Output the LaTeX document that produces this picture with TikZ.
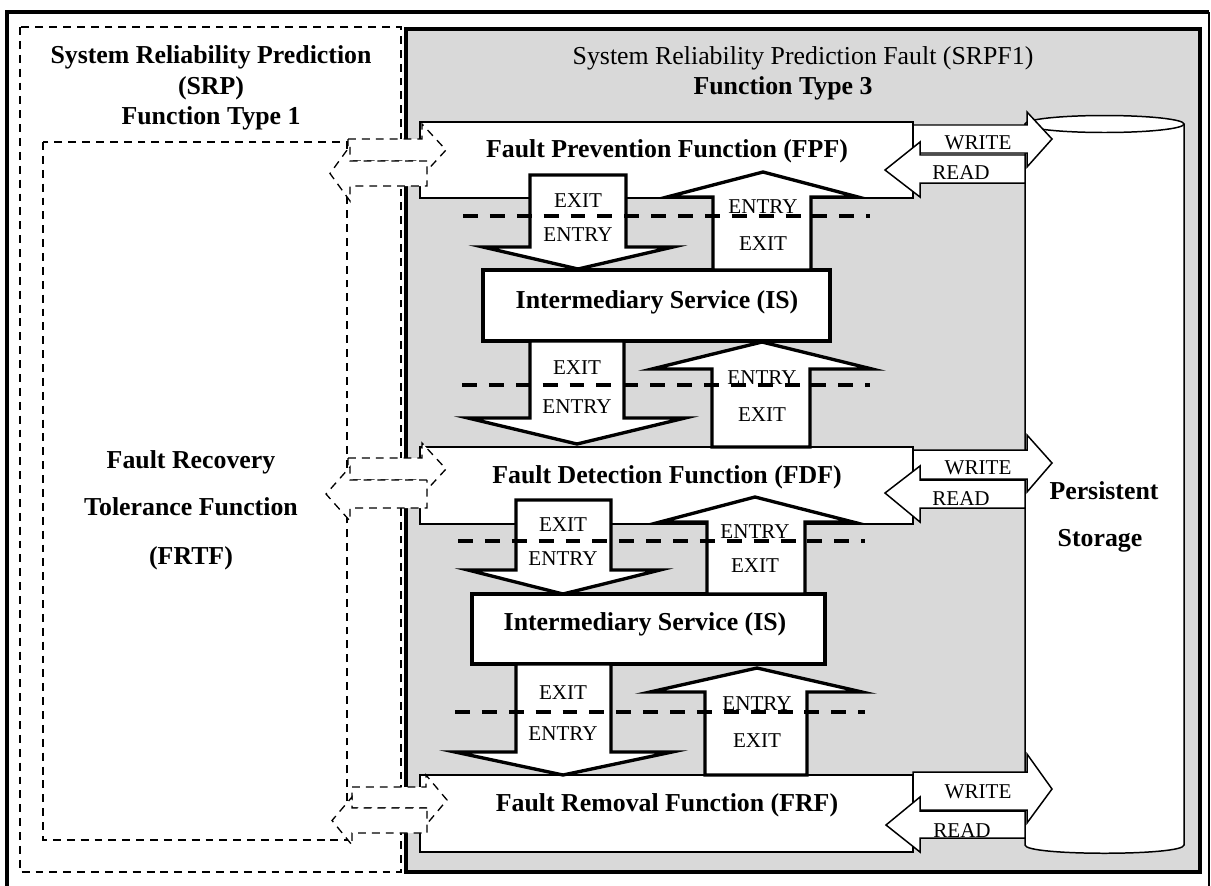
\documentclass[tikz,border=0pt]{standalone}
\usepackage{fontspec}
\setmainfont{Liberation Serif}
\definecolor{panelgray}{RGB}{217,217,217}
\tikzset{
  thinbox/.style={draw=black, line width=0.75pt, fill=white},
  thickbox/.style={draw=black, line width=1.9pt, fill=white},
  blockarrow/.style={draw=black, line width=1.9pt, fill=white, line join=miter},
  rwarrow/.style={draw=black, line width=0.85pt, fill=white, line join=miter},
  linkarrow/.style={draw=black, line width=0.75pt, fill=white, dash pattern=on 4.5pt off 3.4pt},
  thindash/.style={draw=black, line width=0.75pt, dash pattern=on 4.5pt off 3.4pt},
  boundary/.style={draw=black, line width=1.9pt, dash pattern=on 8.5pt off 6.8pt},
  bigb/.style={font=\fontsize{14.7}{17}\selectfont\bfseries, inner sep=0pt, anchor=base},
  bigr/.style={font=\fontsize{14.7}{17}\selectfont, inner sep=0pt, anchor=base},
  small/.style={font=\fontsize{12}{14}\selectfont, inner sep=0pt, anchor=base},
}
\begin{document}
\begin{tikzpicture}[x=0.02cm, y=-0.02cm]
\useasboundingbox (0,0) rectangle (1211,886);

% outer frame
\draw[line width=2.3pt] (7,886) -- (7,12) -- (1209,12);
\draw[line width=0.9pt] (1209,12) -- (1209,886);

% function type 1 region
\draw[thindash] (20,27) rectangle (401,872);
\draw[thindash] (43,142) rectangle (347,840);
\node[bigb] (srp1) at (211,63) {System Reliability Prediction};
\node[bigb] (srp2) at (211,94) {(SRP)};
\node[bigb] (srp3) at (211,124) {Function Type 1};
\node[bigb] (frtf1) at (191,468) {Fault Recovery};
\node[bigb] (frtf2) at (191,515) {Tolerance Function};
\node[bigb] (frtf3) at (191,564) {(FRTF)};

% function type 3 region
\draw[line width=1.9pt, fill=panelgray] (406,29) rectangle (1200,872);
\node[bigr] (srpf1) at (803,64) {System Reliability Prediction Fault (SRPF1)};
\node[bigb] (srpf2) at (783,94) {Function Type 3};

% persistent storage
\draw[line width=0.85pt, fill=white] (1025,124) -- (1025,845)
  .. controls (1025,856) and (1184,856) .. (1184,845) -- (1184,124);
\draw[line width=0.85pt, fill=white] (1104.5,124) ellipse [x radius=79.5, y radius=8.5];
\node[bigb] (ps1) at (1104,499) {Persistent};
\node[bigb] (ps2) at (1100,546) {Storage};

% function boxes
\draw[thinbox] (420,122) rectangle (913,198);
\draw[thinbox] (420,447) rectangle (913,524);
\draw[thinbox] (420,775) rectangle (913,852);

% intermediary services
\draw[thickbox] (483,270) rectangle (830,341);
\draw[thickbox] (472,594) rectangle (825,664);

% exit / entry block arrows
\draw[blockarrow] (530,175) -- (626,175) -- (626,247) -- (673,247) -- (578,269) -- (483,247) -- (530,247) -- cycle;
\draw[blockarrow] (713,270) -- (713,197) -- (667,197) -- (763,172) -- (858,197) -- (811,197) -- (811,270) -- cycle;
\draw[blockarrow] (530,341) -- (624,341) -- (624,418) -- (685,418) -- (577,444) -- (468,418) -- (530,418) -- cycle;
\draw[blockarrow] (712,447) -- (712,369) -- (652,369) -- (762,342) -- (872,369) -- (810,369) -- (810,447) -- cycle;
\draw[blockarrow] (516,500) -- (611,500) -- (611,570) -- (660,570) -- (563,594) -- (468,570) -- (516,570) -- cycle;
\draw[blockarrow] (707,594) -- (707,522) -- (660,522) -- (755,497) -- (853,522) -- (805,522) -- (805,594) -- cycle;
\draw[blockarrow] (516,664) -- (611,664) -- (611,752) -- (672,752) -- (563,775) -- (455,752) -- (516,752) -- cycle;
\draw[blockarrow] (705,775) -- (705,692) -- (650,692) -- (757,668) -- (862,692) -- (807,692) -- (807,775) -- cycle;

% box titles
\node[bigb] (fpf) at (667,157) {Fault Prevention Function (FPF)};
\node[bigb] (is1) at (657,308) {Intermediary Service (IS)};
\node[bigb] (fdf) at (667,483) {Fault Detection Function (FDF)};
\node[bigb] (is2) at (645,630) {Intermediary Service (IS)};
\node[bigb] (frf) at (667,811) {Fault Removal Function (FRF)};

% arrow labels
\node[small] at (578,207) {EXIT};
\node[small] at (578,241) {ENTRY};
\node[small] at (763,213) {ENTRY};
\node[small] at (763,250) {EXIT};
\node[small] at (577,374) {EXIT};
\node[small] at (577,413) {ENTRY};
\node[small] at (762,384) {ENTRY};
\node[small] at (762,421) {EXIT};
\node[small] at (563,531) {EXIT};
\node[small] at (563,565) {ENTRY};
\node[small] at (755,538) {ENTRY};
\node[small] at (755,572) {EXIT};
\node[small] at (563,699) {EXIT};
\node[small] at (563,740) {ENTRY};
\node[small] at (757,710) {ENTRY};
\node[small] at (757,747) {EXIT};

% boundaries
\draw[boundary] (463,216) -- (870,216);
\draw[boundary] (462,385) -- (870,385);
\draw[boundary] (458,541) -- (865,541);
\draw[boundary] (455,712) -- (865,712);

% read / write arrows
\draw[rwarrow] (913,125) -- (1027,125) -- (1027,112) -- (1052,139) -- (1027,167) -- (1027,153) -- (913,153) -- cycle;
\node[small] at (978,149) {WRITE};
\draw[rwarrow] (1025,155) -- (920,155) -- (920,142) -- (885,170) -- (920,197) -- (920,183) -- (1025,183) -- cycle;
\node[small] at (961,179) {READ};

\draw[rwarrow] (913,450) -- (1027,450) -- (1027,435) -- (1052,463) -- (1027,492) -- (1027,479) -- (913,479) -- cycle;
\node[small] at (978,474) {WRITE};
\draw[rwarrow] (1025,480) -- (920,480) -- (920,466) -- (885,493) -- (920,522) -- (920,508) -- (1025,508) -- cycle;
\node[small] at (961,505) {READ};

\draw[rwarrow] (913,772) -- (1027,772) -- (1027,754) -- (1052,789) -- (1027,823) -- (1027,810) -- (913,810) -- cycle;
\node[small] at (978,798) {WRITE};
\draw[rwarrow] (1025,811) -- (920,811) -- (920,797) -- (886,825) -- (920,852) -- (920,838) -- (1025,838) -- cycle;
\node[small] at (962,837) {READ};

% links between FRTF and the function boxes
\draw[linkarrow] (348,139) -- (422,139) -- (422,124) -- (446,150) -- (422,176) -- (422,161) -- (348,161) -- cycle;
\draw[linkarrow] (427,161) -- (350,161) -- (350,146) -- (330,173.5) -- (350,201) -- (350,186) -- (427,186) -- cycle;
\draw[linkarrow] (348,458) -- (422,458) -- (422,443) -- (446,469) -- (422,495) -- (422,480) -- (348,480) -- cycle;
\draw[linkarrow] (427,480) -- (350,480) -- (350,467) -- (326,494) -- (350,521) -- (350,508) -- (427,508) -- cycle;
\draw[linkarrow] (352,787) -- (426,787) -- (426,775) -- (447,800) -- (426,825) -- (426,808) -- (352,808) -- cycle;
\draw[linkarrow] (427,808) -- (352,808) -- (352,797) -- (332,820.5) -- (352,845) -- (352,833) -- (427,833) -- cycle;
\end{tikzpicture}
\end{document}
